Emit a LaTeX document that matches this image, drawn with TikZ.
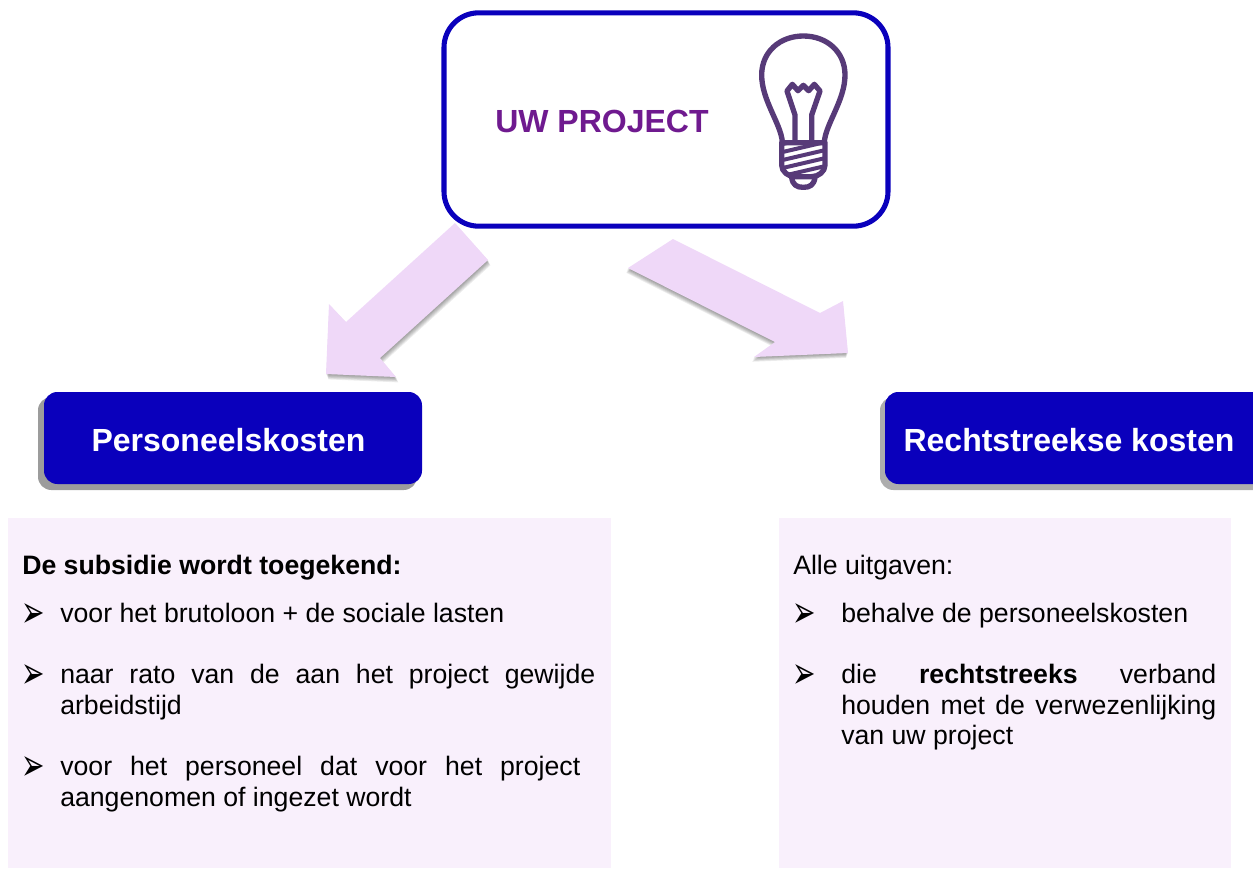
\documentclass[tikz,border=0pt]{standalone}
\usepackage{graphicx}
\usepackage{fontspec}
\setmainfont{Liberation Sans}
\newfontfamily\symfont{DejaVu Sans}
\definecolor{boxblue}{HTML}{0A00BC}
\definecolor{panelpink}{HTML}{F9F0FC}
\definecolor{arrowpink}{HTML}{EFD8F8}
\definecolor{titlepurple}{HTML}{6F1A8F}
\definecolor{bulbpurple}{HTML}{573A78}
\definecolor{shadowgrey}{HTML}{9C9C9C}
\definecolor{shadowlight}{HTML}{ADADAD}
\newcommand{\arrowbullet}{\scalebox{1}[1.6]{➢}}
\tikzset{
  x=0.75pt,y=-0.75pt,
  panel/.style={fill=panelpink,draw=none},
  headbox/.style={fill=boxblue,draw=none,rounded corners=10pt},
  headtext/.style={font=\fontsize{24}{28}\selectfont\bfseries,text=white,inner sep=0pt,anchor=base},
  bodytext/.style={font=\fontsize{20}{22.9}\selectfont,text=black,inner sep=0pt,anchor=north west,align=justify,
    execute at begin node={\tolerance=9999\hyphenpenalty=10000\emergencystretch=3em}},
  plaintext/.style={font=\fontsize{20}{22.9}\selectfont,text=black,inner sep=0pt,anchor=base west},
  bullet/.style={font=\symfont\fontsize{21}{24}\selectfont,text=black,inner sep=0pt,anchor=base west},
  blockarrow/.style={fill=arrowpink,draw=none},
  arrowshade/.style={fill=black,draw=none,opacity=0.07},
  bulbline/.style={draw=bulbpurple,line width=4pt,line join=round,line cap=round},
  stripe/.style={draw=bulbpurple,line width=3pt},
}
\begin{document}
\begin{tikzpicture}
\useasboundingbox (0,0) rectangle (1253,868);
% panels
\fill[panel] (8,518) rectangle (611,868);
\fill[panel] (779,518) rectangle (1231,868);
% top box
\node[draw=boxblue,line width=3.8pt,fill=white,rounded corners=26pt,minimum width=333pt,minimum height=160pt,inner sep=0pt] (project) at (666,119.5) {};
\node[font=\fontsize{24}{28}\selectfont\bfseries,text=titlepurple,inner sep=0pt,anchor=base west] (title) at (495,132) {UW PROJECT};
% bulb
\begin{scope}[shift={(740,20)},x=0.25pt,y=-0.25pt]
  \draw[bulbline,fill=white] (127,365) .. controls (122,310) and (65,240) .. (65,165)
     .. controls (65,95) and (120,48) .. (190,48)
     .. controls (260,48) and (315,95) .. (315,165)
     .. controls (315,240) and (258,310) .. (253,365);
  \draw[bulbline] (165,365) -- (165,285) -- (141,213) -- (157,193) -- (174,212) -- (190,196) -- (206,212) -- (223,193) -- (240,213) -- (215,285) -- (215,365);
  \draw[bulbline] (125,368) -- (255,368) -- (255,435) .. controls (255,455) and (235,470) .. (215,470) -- (165,470) .. controls (145,470) and (125,455) .. (125,435) -- cycle;
  \draw[bulbline] (155,472) .. controls (158,495) and (170,502) .. (190,502) .. controls (210,502) and (222,495) .. (225,472);
  \begin{scope}
    \clip (125,368) -- (255,368) -- (255,435) .. controls (255,455) and (235,470) .. (215,470) -- (165,470) .. controls (145,470) and (125,455) .. (125,435) -- cycle;
    \foreach \s in {0,1,2,3,4}{
      \draw[stripe] (115,375+24*\s) -- (265,340+24*\s);
    }
  \end{scope}
\end{scope}
% arrows
\foreach \d in {1,...,6}{
  \fill[arrowshade,shift={(0.4*\d,0.9*\d)}] (455,223) -- (488,260) -- (380,358) -- (396,377) -- (326,374) -- (329,304) -- (346,322) -- cycle;
  \fill[arrowshade,shift={(-0.3*\d,0.8*\d)}] (673,239) -- (820,313) -- (843,301) -- (848,353) -- (754,357) -- (775,342) -- (628,268) -- cycle;
}
\fill[blockarrow] (455,223) -- (488,260) -- (380,358) -- (396,377) -- (326,374) -- (329,304) -- (346,322) -- cycle;
\fill[blockarrow] (673,239) -- (820,313) -- (843,301) -- (848,353) -- (754,357) -- (775,342) -- (628,268) -- cycle;
% head boxes
\fill[shadowgrey,rounded corners=10pt] (38,397) rectangle (417,490);
\fill[headbox] (44,392) rectangle (422,484);
\node[headtext] (pk) at (228.5,451) {Personeelskosten};
\fill[shadowlight,rounded corners=10pt] (880,397) rectangle (1280,490);
\fill[headbox] (885,392) rectangle (1280,484);
\node[headtext] (rk) at (1069,451) {Rechtstreekse kosten};
% left text
\node[plaintext] (l0) at (22,574) {\bfseries De subsidie wordt toegekend:};
\node[bullet] (lb1) at (21,627) {\arrowbullet};
\node[plaintext] (l1) at (60,622) {voor het brutoloon + de sociale lasten};
\node[bullet] (lb2) at (21,688) {\arrowbullet};
\node[bodytext,text width=401.25pt] (l2) at (60,664) {naar rato van de aan het project gewijde arbeidstijd};
\node[bullet] (lb3) at (21,780) {\arrowbullet};
\node[bodytext,text width=390pt] (l3) at (60,756) {voor het personeel dat voor het project aangenomen of ingezet wordt};
% right text
\node[plaintext] (r0) at (793,574) {Alle uitgaven:};
\node[bullet] (rb1) at (792,627) {\arrowbullet};
\node[plaintext] (r1) at (841,622) {behalve de personeelskosten};
\node[bullet] (rb2) at (792,688) {\arrowbullet};
\node[bodytext,text width=281.25pt] (r2) at (841,664) {die \textbf{rechtstreeks} verband houden met de verwezenlijking van uw project};
\end{tikzpicture}
\end{document}
